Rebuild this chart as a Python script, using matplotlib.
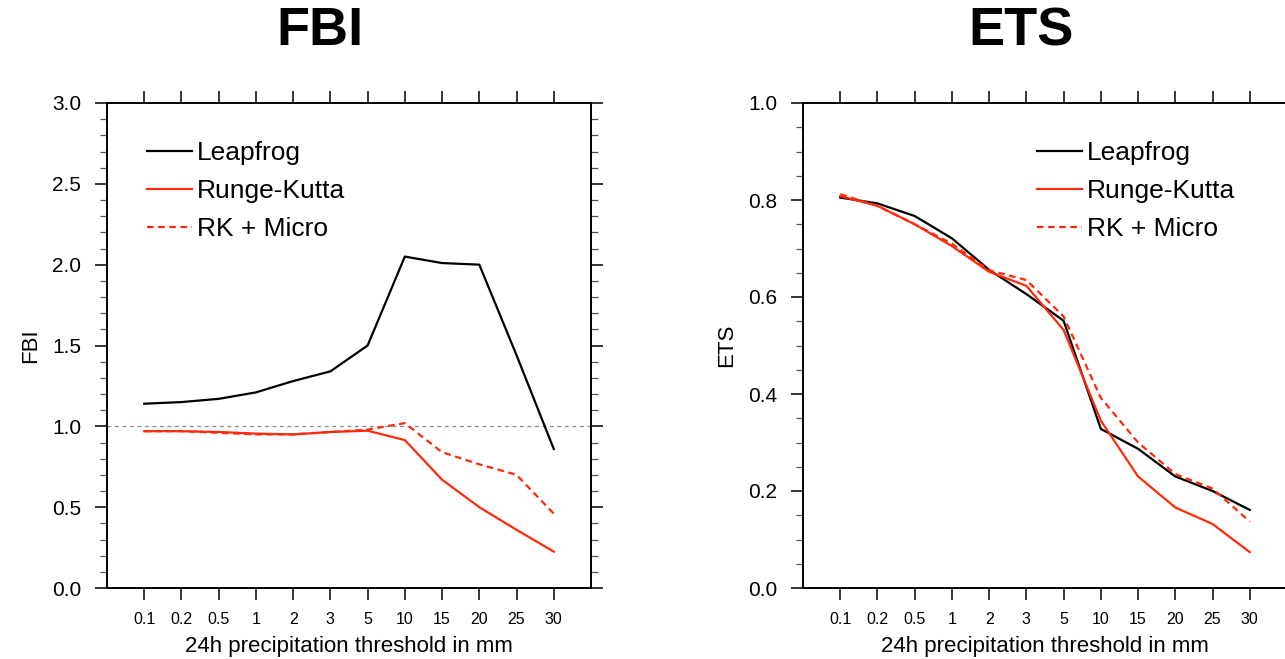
import matplotlib
matplotlib.use("Agg")
import matplotlib.pyplot as plt
from matplotlib.ticker import MultipleLocator

plt.rcParams['font.family'] = ['Liberation Sans', 'DejaVu Sans']

thresholds = ["0.1", "0.2", "0.5", "1", "2", "3", "5", "10", "15", "20", "25", "30"]

fbi_leapfrog = [1.14, 1.15, 1.17, 1.21, 1.28, 1.34, 1.50, 2.05, 2.01, 2.00, 1.44, 0.86]
fbi_rk       = [0.97, 0.97, 0.965, 0.955, 0.95, 0.965, 0.973, 0.915, 0.67, 0.50, 0.36, 0.225]
fbi_rk_micro = [0.97, 0.97, 0.96, 0.95, 0.95, 0.965, 0.98, 1.02, 0.84, 0.765, 0.70, 0.46]

ets_leapfrog = [0.805, 0.793, 0.767, 0.721, 0.656, 0.606, 0.551, 0.328, 0.287, 0.230, 0.200, 0.161]
ets_rk       = [0.808, 0.788, 0.750, 0.705, 0.652, 0.623, 0.532, 0.345, 0.230, 0.166, 0.132, 0.074]
ets_rk_micro = [0.812, 0.788, 0.750, 0.710, 0.655, 0.635, 0.560, 0.392, 0.300, 0.235, 0.205, 0.137]

series_labels = ["Leapfrog", "Runge-Kutta", "RK + Micro"]
RED = "#ff2a0a"

W, H = 1285, 659
fig = plt.figure(figsize=(W / 100, H / 100), dpi=100)

ax_l = fig.add_axes([107 / W, (H - 588) / H, 484 / W, 485 / H])
ax_r = fig.add_axes([803 / W, (H - 588) / H, 484 / W, 485 / H])

x = list(range(1, len(thresholds) + 1))


def style_axis(ax, ymax, ymajor, yminor, ylabel):
    ax.set_xlim(0, len(thresholds) + 1)
    ax.set_ylim(0, ymax)
    ax.set_xticks(x)
    ax.set_xticklabels(thresholds, fontsize=11.5)
    ax.yaxis.set_major_locator(MultipleLocator(ymajor))
    ax.yaxis.set_minor_locator(MultipleLocator(yminor))
    ax.yaxis.set_major_formatter(matplotlib.ticker.FormatStrFormatter('%.1f'))
    for s in ax.spines.values():
        s.set_linewidth(1.4)
    ax.tick_params(axis='both', which='major', direction='out', length=8.5,
                   width=1.1, top=True, right=True)
    ax.tick_params(axis='y', which='minor', direction='out', length=5,
                   width=0.9, right=True, color='#555555')
    ax.tick_params(axis='x', which='major', pad=9)
    ax.tick_params(axis='y', which='major', pad=10, labelsize=15)
    ax.set_xlabel("24h precipitation threshold in mm", fontsize=16, labelpad=6.5)
    ax.set_ylabel(ylabel, fontsize=16, labelpad=8)


# FBI panel
ax_l.axhline(1.0, color='#888888', lw=0.9, ls=(0, (3, 3)))
ax_l.plot(x, fbi_leapfrog, color='black', lw=1.6, label=series_labels[0])
ax_l.plot(x, fbi_rk, color=RED, lw=1.6, label=series_labels[1])
ax_l.plot(x, fbi_rk_micro, color=RED, lw=1.6, ls=(0, (3, 2)), label=series_labels[2])
style_axis(ax_l, 3.0, 0.5, 0.1, "FBI")

# ETS panel
ax_r.plot(x, ets_leapfrog, color='black', lw=1.6, label=series_labels[0])
ax_r.plot(x, ets_rk, color=RED, lw=1.6, label=series_labels[1])
ax_r.plot(x, ets_rk_micro, color=RED, lw=1.6, ls=(0, (3, 2)), label=series_labels[2])
style_axis(ax_r, 1.0, 0.2, 0.05, "ETS")

legend_kw = dict(frameon=False, fontsize=19, handlelength=1.7, handletextpad=0.2,
                 labelspacing=0.53, borderpad=0, borderaxespad=0, loc='upper left')
ax_l.legend(bbox_to_anchor=((147 - 107) / 484, (588 - 141) / 485), **legend_kw)
ax_r.legend(bbox_to_anchor=((1037 - 803) / 484, (588 - 141) / 485), **legend_kw)

fig.text(320 / W, 1 - 31 / H, "FBI", fontsize=39, fontweight='bold', ha='center', va='center')
fig.text(1021 / W, 1 - 31 / H, "ETS", fontsize=39, fontweight='bold', ha='center', va='center')

fig.savefig("out.png", dpi=100)
